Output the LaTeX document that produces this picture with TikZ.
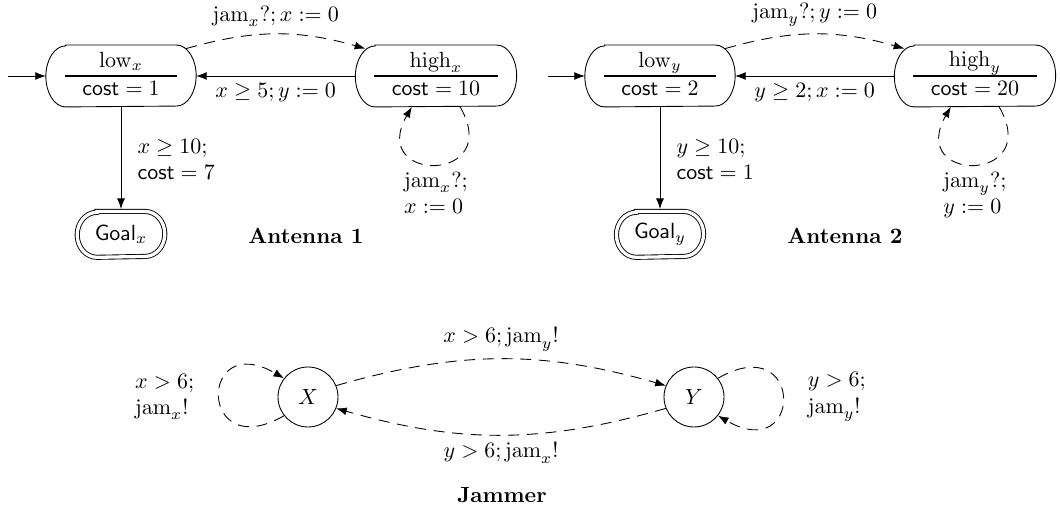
\documentclass[tikz,border=0pt]{standalone}
\usetikzlibrary{arrows.meta}
\setlength{\arrayrulewidth}{0.8pt}
\setlength{\tabcolsep}{8pt}
\newcommand{\loc}[2]{\begin{tabular}{c}$#1$\\\hline$\mathsf{cost}=#2$\end{tabular}}
\begin{document}
\begin{tikzpicture}[>=Latex,
    loc/.style={rectangle,inner xsep=8.4pt,inner ysep=1pt,minimum height=0.976cm},
    goal/.style={rectangle,inner xsep=7.8pt,minimum height=0.72cm},
    mode/.style={draw,circle,minimum size=0.96cm,inner sep=0pt},
    jam/.style={dash pattern=on 5pt off 3.5pt}]
  \useasboundingbox (0,0) rectangle (16.96,-8.192);
  % Antenna 1
  \coordinate (initx) at (0.128,-1.216);
  \node[loc] (lowx) at (1.936,-1.216) {\loc{\mathrm{low}_x}{1}};
  \node[loc] (highx) at (6.976,-1.216) {\loc{\mathrm{high}_x}{10}};
  \node[goal] (goalx) at (1.936,-3.75) {$\mathsf{Goal}_x$};
  \node (ant1) at (4.896,-3.78) {\textbf{Antenna 1}};
  % Antenna 2
  \coordinate (inity) at (8.768,-1.216);
  \node[loc] (lowy) at (10.56,-1.216) {\loc{\mathrm{low}_y}{2}};
  \node[loc] (highy) at (15.6,-1.216) {\loc{\mathrm{high}_y}{20}};
  \node[goal] (goaly) at (10.56,-3.75) {$\mathsf{Goal}_y$};
  \node (ant2) at (13.52,-3.78) {\textbf{Antenna 2}};
  % outlines with elliptic ends
  \foreach \n in {lowx,highx,lowy,highy}
    \draw ([xshift=9pt]\n.north west) -- ([xshift=-9pt]\n.north east)
      arc[start angle=90,end angle=-90,x radius=9pt,y radius=0.488cm]
      -- ([xshift=9pt]\n.south west)
      arc[start angle=270,end angle=90,x radius=9pt,y radius=0.488cm] -- cycle;
  \foreach \n in {goalx,goaly}
    \draw[double,double distance=1.5pt] ([xshift=9pt]\n.north west) -- ([xshift=-9pt]\n.north east)
      arc[start angle=90,end angle=-90,x radius=9pt,y radius=0.36cm]
      -- ([xshift=9pt]\n.south west)
      arc[start angle=270,end angle=90,x radius=9pt,y radius=0.36cm] -- cycle;
  % edges, antenna 1
  \draw[->] (initx) -- (lowx);
  \draw[jam,->] ([shift={(-4.5pt,-1.6pt)}]lowx.north east) to[bend left=16]
    node[above] {$\mathrm{jam}_x?; x := 0$} ([shift={(4.5pt,-1.6pt)}]highx.north west);
  \draw[->] (highx) -- node[below] {$x \geq 5; y := 0$} (lowx);
  \draw[->,shorten >=1.1pt] (lowx) -- node[right=4pt,align=left] {$x \geq 10;$\\$\mathsf{cost} = 7$} (goalx);
  \draw[jam,->] (highx.-52) to[out=-60,in=-120,looseness=4.7]
    node[below,align=left] {$\mathrm{jam}_x?;$\\$x := 0$} (highx.-128);
  % edges, antenna 2
  \draw[->] (inity) -- (lowy);
  \draw[jam,->] ([shift={(-4.5pt,-1.6pt)}]lowy.north east) to[bend left=16]
    node[above] {$\mathrm{jam}_y?; y := 0$} ([shift={(4.5pt,-1.6pt)}]highy.north west);
  \draw[->] (highy) -- node[below] {$y \geq 2; x := 0$} (lowy);
  \draw[->,shorten >=1.1pt] (lowy) -- node[right=4pt,align=left] {$y \geq 10;$\\$\mathsf{cost} = 1$} (goaly);
  \draw[jam,->] (highy.-52) to[out=-60,in=-120,looseness=4.7]
    node[below,align=left] {$\mathrm{jam}_y?;$\\$y := 0$} (highy.-128);
  % Jammer
  \node[mode] (X) at (4.928,-6.352) {$X$};
  \node[mode] (Y) at (11.104,-6.352) {$Y$};
  \node (jammer) at (8.032,-7.92) {\textbf{Jammer}};
  \draw[jam,->] (X.22) to[bend left=16] node[above] {$x > 6; \mathrm{jam}_y!$} (Y.158);
  \draw[jam,->] (Y.202) to[bend left=16] node[below] {$y > 6; \mathrm{jam}_x!$} (X.-22);
  \draw[jam,->] (X.218) to[out=210,in=150,looseness=6.8]
    node[left=8pt,align=left] {$x > 6;$\\$\mathrm{jam}_x!$} (X.142);
  \draw[jam,->] (Y.38) to[out=30,in=-30,looseness=6.8]
    node[right=8pt,align=left] {$y > 6;$\\$\mathrm{jam}_y!$} (Y.-38);
\end{tikzpicture}
\end{document}
